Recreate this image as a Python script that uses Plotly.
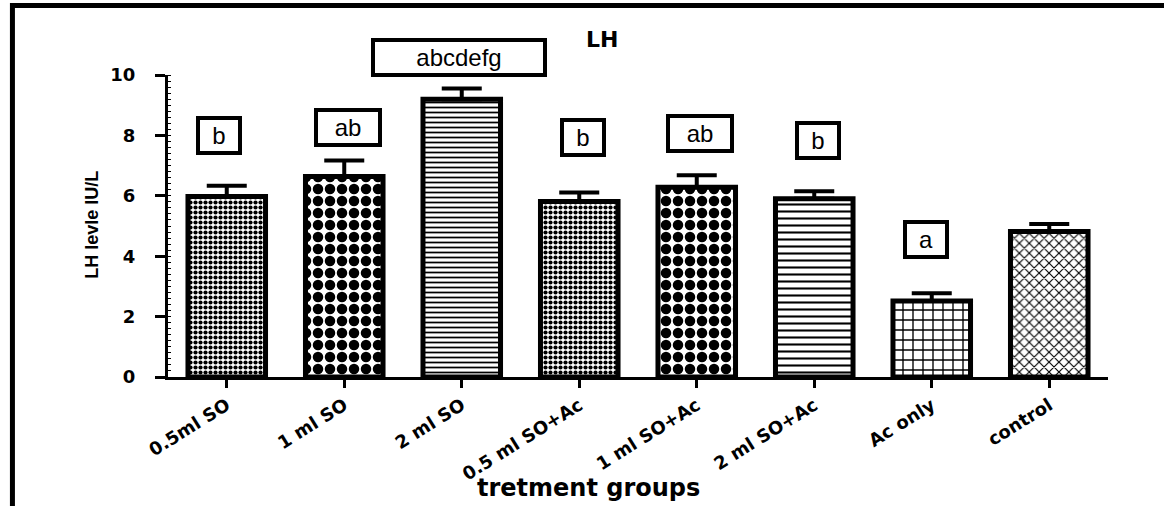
import plotly.graph_objects as go

# ---- data ----
categories = ["0.5ml SO", "1 ml SO", "2 ml SO", "0.5 ml SO+Ac", "1 ml SO+Ac",
              "2 ml SO+Ac", "Ac only", "control"]
lh_mean = [5.98, 6.64, 9.2, 5.81, 6.28, 5.9, 2.52, 4.82]
lh_err = [0.35, 0.53, 0.35, 0.3, 0.4, 0.25, 0.25, 0.25]
letters = ["b", "ab", "abcdefg", "b", "ab", "b", "a", ""]
y_ticks = [0, 2, 4, 6, 8, 10]

# ---- styling / layout ----
y_top = 10
letter_y = [8.0, 8.26, 10.58, 7.93, 8.07, 7.84, 4.55, None]
letter_dx = [-0.07, 0.03, -0.02, 0.03, 0.03, 0.03, -0.05, 0]
letter_w = [34, 56, 164, 34, 56, 34, 34, 0]
pat_shape = [".", ".", "-", ".", ".", "-", "+", "x"]
pat_size = [5, 12, 5, 5, 12, 7, 10, 7]
pat_solid = [0.55, 0.6, 0.35, 0.55, 0.6, 0.3, 0.25, 0.3]

bold = "DejaVu Sans"

fig = go.Figure()
fig.add_trace(go.Bar(
    x=list(range(len(categories))),
    y=lh_mean,
    width=0.66,
    marker=dict(
        color="white",
        line=dict(color="black", width=5),
        pattern=dict(shape=pat_shape, size=pat_size, solidity=pat_solid,
                     fgcolor="black", bgcolor="white", fgopacity=1),
    ),
    error_y=dict(type="data", array=lh_err, arrayminus=[0] * len(lh_err),
                 symmetric=False, color="black", thickness=4, width=20),
    showlegend=False,
))

annotations = []
for i, (lt, ly, dx, w) in enumerate(zip(letters, letter_y, letter_dx, letter_w)):
    if not lt:
        continue
    annotations.append(dict(
        x=i + dx, y=ly / y_top, xref="x", yref="paper", text=lt, showarrow=False,
        font=dict(family="Liberation Sans", size=24, color="black"),
        width=w, align="center",
        bordercolor="black", borderwidth=4, borderpad=2, bgcolor="white",
        xanchor="center", yanchor="middle",
    ))

# titles as annotations
annotations.append(dict(x=0.4617, y=1.1177, xref="paper", yref="paper", text="LH",
                        showarrow=False,
                        font=dict(family=bold, size=22, color="black", weight="bold"),
                        xanchor="center", yanchor="middle"))
annotations.append(dict(x=0.447, y=-0.368, xref="paper", yref="paper",
                        text="tretment groups", showarrow=False,
                        font=dict(family=bold, size=24, color="black", weight="bold"),
                        xanchor="center", yanchor="middle"))
annotations.append(dict(x=-0.0809, y=0.504, xref="paper", yref="paper",
                        text="LH levle IU/L", textangle=-90, showarrow=False,
                        font=dict(family="Liberation Sans", size=18, color="black",
                                  weight="bold"),
                        xanchor="center", yanchor="middle"))

fig.update_layout(
    width=1164, height=506,
    margin=dict(l=168, r=56, t=75, b=129),
    paper_bgcolor="white", plot_bgcolor="white",
    annotations=annotations,
    shapes=[dict(type="rect", xref="paper", yref="paper",
                 x0=-0.1655, x1=1.08, y0=-0.5, y1=1.2305,
                 line=dict(color="black", width=5), fillcolor="rgba(0,0,0,0)",
                 layer="below")],
    xaxis=dict(
        range=[-0.5, len(categories) - 0.5],
        tickmode="array", tickvals=list(range(len(categories))), ticktext=categories,
        tickangle=-32, ticks="outside", ticklen=8, tickwidth=3, tickcolor="black",
        showline=True, linecolor="black", linewidth=3, showgrid=False, zeroline=False,
        tickfont=dict(family=bold, size=18, color="black", weight="bold"),
    ),
    yaxis=dict(
        range=[0, y_top], tickmode="array", tickvals=y_ticks,
        ticks="outside", ticklen=10, tickwidth=3, tickcolor="black",
        showline=True, linecolor="black", linewidth=3, showgrid=False, zeroline=False,
        tickfont=dict(family=bold, size=18, color="black", weight="bold"),
        ticklabelstandoff=16,
        minor=dict(ticks="inside", ticklen=3, tickwidth=1, dtick=0.2, tickcolor="black"),
    ),
)

fig.write_html("out.html", config={"displayModeBar": False},
               post_script="document.body.style.margin='0';")
